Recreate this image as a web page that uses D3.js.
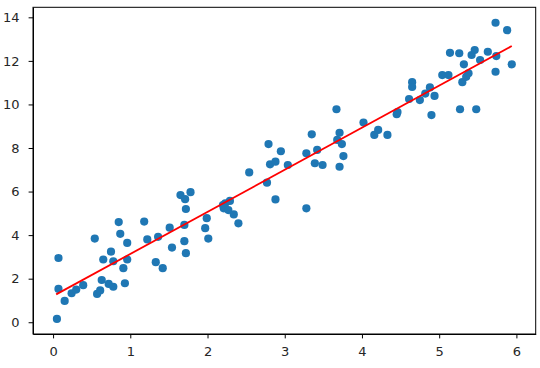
<!DOCTYPE html>
<html>
<head>
<meta charset="utf-8">
<script src="https://cdn.jsdelivr.net/npm/d3@7"></script>
<style>
  body { margin: 0; background: #fff; }
  svg { display: block; }
  .axis text { font-family: "DejaVu Sans", sans-serif; font-size: 13px; fill: #262626; }
  .axis path, .axis line { stroke: #000; stroke-width: 1px; }
</style>
</head>
<body>
<div id="plot"></div>
<script>
// scatter points
var xs = [0.05, 0.07, 0.07, 0.15, 0.24, 0.30, 0.39, 0.54, 0.57, 0.61,
          0.63, 0.65, 0.72, 0.75, 0.78, 0.78, 0.85, 0.87, 0.91, 0.93,
          0.96, 0.96, 1.18, 1.22, 1.33, 1.36, 1.42, 1.51, 1.54, 1.65,
          1.70, 1.70, 1.71, 1.72, 1.72, 1.78, 1.99, 1.97, 2.01, 2.20,
          2.23, 2.29, 2.21, 2.27, 2.34, 2.40, 2.54, 2.77, 2.79, 2.81,
          2.88, 2.88, 2.95, 3.04, 3.28, 3.28, 3.35, 3.39, 3.42, 3.49,
          3.67, 3.68, 3.71, 3.71, 3.74, 3.76, 4.02, 4.16, 4.21, 4.33,
          4.45, 4.46, 4.61, 4.65, 4.65, 4.75, 4.82, 4.88, 4.90, 4.94,
          5.04, 5.12, 5.14, 5.26, 5.27, 5.30, 5.32, 5.35, 5.38, 5.42,
          5.46, 5.48, 5.53, 5.63, 5.73, 5.74, 5.73, 5.88, 5.94];
var ys = [0.15, 2.95, 1.53, 0.98, 1.33, 1.50, 1.70, 3.84, 1.30, 1.46,
          1.94, 2.88, 1.76, 3.24, 1.63, 2.80, 4.60, 4.06, 2.48, 1.79,
          3.64, 2.88, 4.62, 3.80, 2.76, 3.92, 2.48, 4.34, 3.43, 5.84,
          4.47, 3.72, 5.65, 5.20, 3.17, 5.97, 4.78, 4.32, 3.84, 5.38,
          5.46, 5.57, 5.23, 5.15, 4.95, 4.54, 6.88, 6.41, 8.18, 7.25,
          7.37, 5.64, 7.85, 7.22, 5.23, 7.76, 8.63, 7.30, 7.91, 7.22,
          9.78, 8.37, 8.70, 7.14, 8.18, 7.63, 9.17, 8.60, 8.83, 8.60,
          9.55, 9.65, 10.25, 11.02, 10.80, 10.20, 10.50, 10.78, 9.51, 10.39,
          11.35, 11.35, 12.37, 12.35, 9.78, 11.02, 11.84, 11.27, 11.43, 12.27,
          12.50, 9.78, 12.04, 12.42, 13.75, 12.22, 11.50, 13.41, 11.84];

// fitted line end points
var lineX = [0.04, 5.94];
var lineY = [1.28, 12.68];

var xTicks = [0, 1, 2, 3, 4, 5, 6];
var yTicks = [0, 2, 4, 6, 8, 10, 12, 14];

var W = 540, H = 368;
var margin = {t: 7.3, r: 4.3, b: 34, l: 33};
var width = W - margin.l - margin.r,
    height = H - margin.t - margin.b;

var svg = d3.select('#plot')
    .append('svg')
    .attr('width', W)
    .attr('height', H);

var scaleX = d3.scaleLinear().domain([-0.26, 6.25]).range([0, width]);
var scaleY = d3.scaleLinear().domain([-0.54, 14.46]).range([height, 0]);

var plot = svg.append('g').attr('transform', 'translate(' + margin.l + ',' + margin.t + ')');

//points
var pts = xs.map(function(d, i){ return {x: d, y: ys[i]}; });
plot.append('g').selectAll('circle')
    .data(pts)
    .enter()
    .append('circle')
    .attr('cx', function(d){ return scaleX(d.x); })
    .attr('cy', function(d){ return scaleY(d.y); })
    .attr('r', 4.1)
    .attr('fill', '#1f77b4');

//red fit line
var line = d3.line()
    .x(function(d){ return scaleX(d[0]); })
    .y(function(d){ return scaleY(d[1]); });
plot.append('path')
    .datum(lineX.map(function(d, i){ return [d, lineY[i]]; }))
    .attr('d', line)
    .attr('fill', 'none')
    .attr('stroke', '#ff0000')
    .attr('stroke-width', 1.8);

//axes
var axisX = d3.axisBottom(scaleX).tickValues(xTicks).tickSize(4.4).tickPadding(8).tickSizeOuter(0).tickFormat(d3.format('d'));
var axisY = d3.axisLeft(scaleY).tickValues(yTicks).tickSize(4.4).tickPadding(9).tickSizeOuter(0).tickFormat(d3.format('d'));

plot.append('g').attr('class', 'axis').attr('transform', 'translate(0,' + height + ')').call(axisX);
plot.append('g').attr('class', 'axis').call(axisY);

//frame on all four sides
plot.append('rect')
    .attr('x', 0).attr('y', 0)
    .attr('width', width).attr('height', height)
    .attr('fill', 'none')
    .attr('stroke', '#000')
    .attr('stroke-width', 1);
</script>
</body>
</html>
